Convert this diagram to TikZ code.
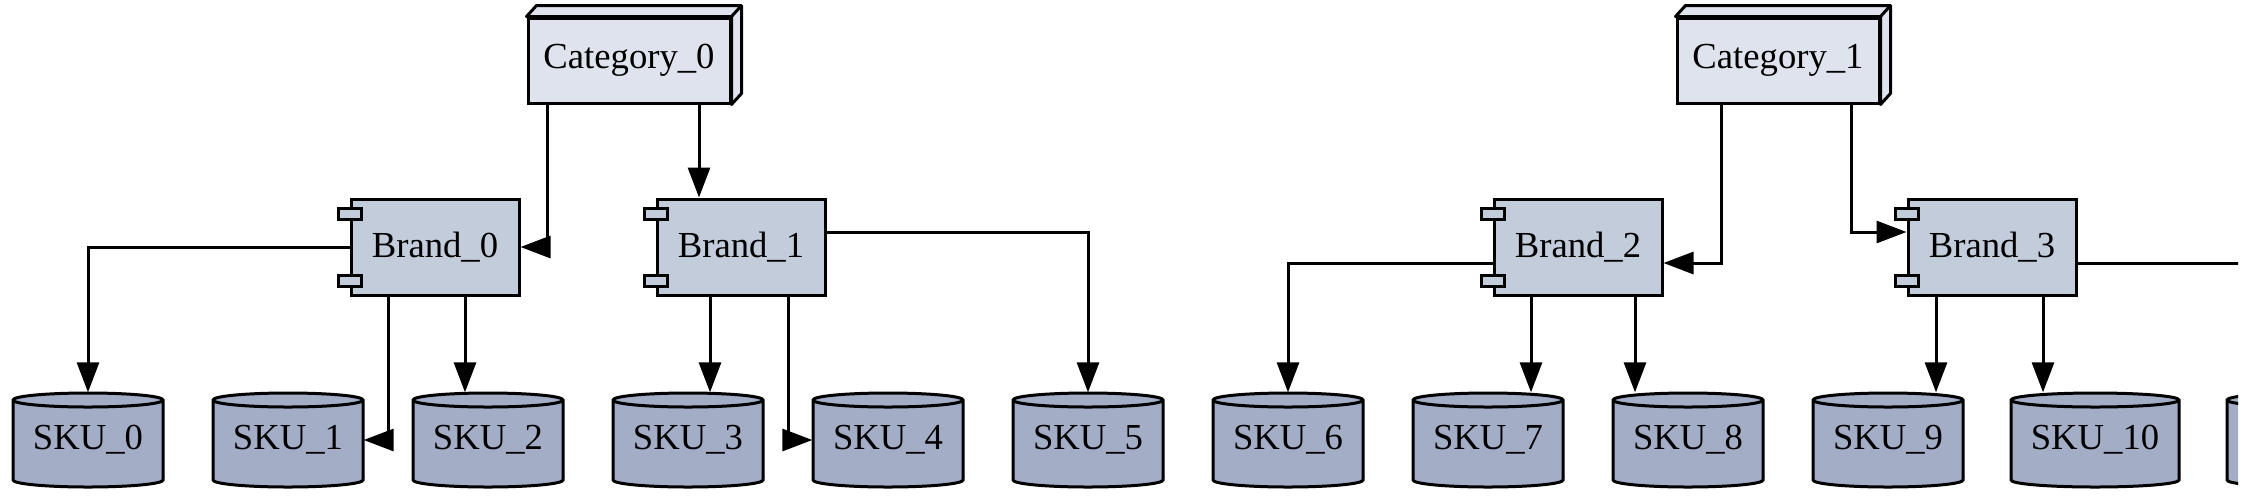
\documentclass[tikz,border=0pt]{standalone}
\usepackage{fontspec}
\setmainfont{Liberation Serif}
\usetikzlibrary{positioning,calc,arrows.meta}
\definecolor{CatFill}{RGB}{222,227,237}
\definecolor{BrandFill}{RGB}{194,204,219}
\definecolor{SkuFill}{RGB}{163,173,198}

\begin{document}
\begin{tikzpicture}[
        x=0.3pt, y=0.3pt,
        font=\fontsize{11}{13}\selectfont,
        % --- STYLE ---
        % Category: hop 3D
        catnode/.style={
            draw=black, fill=CatFill, line width=0.9pt,
            minimum width=60.6pt, minimum height=25.5pt, inner sep=0pt
        },
        catface/.style={draw=black, fill=CatFill, line width=0.9pt, line join=round},
        % Brand: hop thanh phan
        brandnode/.style={
            draw=black, fill=BrandFill, line width=0.9pt,
            minimum width=50.4pt, minimum height=28.8pt, inner sep=0pt
        },
        tabbox/.style={draw=black, fill=BrandFill, line width=0.9pt},
        % SKU: tru
        skunode/.style={minimum height=28.2pt, inner sep=0pt},
        skubody/.style={draw=black, fill=SkuFill, line width=0.9pt},
        % Duong noi
        linkline/.style={draw=black, line width=0.9pt, -{Triangle[length=9pt, width=6.6pt]}}
    ]

        \useasboundingbox (0,0) rectangle (2248,496);
        \clip (0,0) rectangle (2238,496);

        % --- SKU ---
        \foreach \i/\cx/\hw in {0/88/75, 1/288/75, 2/488/75, 3/688/75, 4/888/75, 5/1088/75,
                                6/1288/75, 7/1488/75, 8/1688/75, 9/1888/75, 10/2095/84} {
            \path[skubody] (\cx-\hw,96) -- (\cx-\hw,16)
                arc[start angle=180, end angle=360, x radius=\hw*0.3pt, y radius=2.1pt]
                -- (\cx+\hw,96)
                arc[start angle=0, end angle=180, x radius=\hw*0.3pt, y radius=2.1pt] -- cycle;
            \draw[line width=0.9pt] (\cx-\hw,96)
                arc[start angle=180, end angle=360, x radius=\hw*0.3pt, y radius=2.1pt];
            \node[skunode, minimum width=2*\hw*0.3pt] (sku\i) at (\cx,56) {SKU\_\i};
        }
        % SKU bi cat o mep phai
        \path[skubody] (2227,96) -- (2227,16)
            arc[start angle=180, end angle=360, x radius=25.2pt, y radius=2.1pt]
            -- (2395,96)
            arc[start angle=0, end angle=180, x radius=25.2pt, y radius=2.1pt] -- cycle;
        \draw[line width=0.9pt] (2227,96) arc[start angle=180, end angle=360, x radius=25.2pt, y radius=2.1pt];
        \node[skunode, minimum width=50.4pt] (sku11) at (2311,56) {};

        % --- CATEGORY ---
        \node[catnode] (cat0) at (629,435.5) {Category\_0};
        \node[catnode] (cat1) at (1778,435.5) {Category\_1};
        \foreach \c in {cat0,cat1} {
            \draw[catface] (\c.north west) -- ++(10,11) -- ($(\c.north east)+(10,11)$)
                -- ($(\c.south east)+(10,11)$) -- (\c.south east) -- (\c.north east) -- cycle;
            \draw[line width=0.9pt] (\c.north east) -- ++(10,11);
        }

        % --- BRAND ---
        \node[brandnode] (b0) at (435,249) {Brand\_0};
        \node[brandnode] (b1) at (741,249) {Brand\_1};
        \node[brandnode] (b2) at (1578,249) {Brand\_2};
        \node[brandnode] (b3) at (1992,249) {Brand\_3};
        \foreach \b in {b0,b1,b2,b3} {
            \draw[tabbox] ($(\b.north west)+(-11,-11)$) rectangle ++(23,-11);
            \draw[tabbox] ($(\b.south west)+(-11,10)$) rectangle ++(23,11);
        }

        % --- DUONG NOI ---
        % Category_0
        \draw[linkline] (cat0.south -| 547,0) |- (b0.east);
        \draw[linkline] (cat0.south -| 699,0) -- (b1.north -| 699,0);
        % Brand_0
        \draw[linkline] (b0.west) -| (sku0.north);
        \draw[linkline] (b0.south -| 388,0) |- (sku1.east);
        \draw[linkline] (b0.south -| 465,0) -- (sku2.north -| 465,0);
        % Brand_1
        \draw[linkline] (b1.south -| 710,0) -- (sku3.north -| 710,0);
        \draw[linkline] (b1.south -| 788,0) |- (sku4.west);
        \draw[linkline] (b1.east |- 0,264) -| (sku5.north);
        % Category_1
        \draw[linkline] (cat1.south -| 1721,0) |- (b2.east |- 0,233);
        \draw[linkline] (cat1.south -| 1851,0) |- (b3.west |- 0,264);
        % Brand_2
        \draw[linkline] (b2.west |- 0,233) -| (sku6.north);
        \draw[linkline] (b2.south -| 1531,0) -- (sku7.north -| 1531,0);
        \draw[linkline] (b2.south -| 1635,0) -- (sku8.north -| 1635,0);
        % Brand_3
        \draw[linkline] (b3.south -| 1936,0) -- (sku9.north -| 1936,0);
        \draw[linkline] (b3.south -| 2043,0) -- (sku10.north -| 2043,0);
        \draw[linkline] (b3.east |- 0,233) -| (sku11.north);

    \end{tikzpicture}
\end{document}
